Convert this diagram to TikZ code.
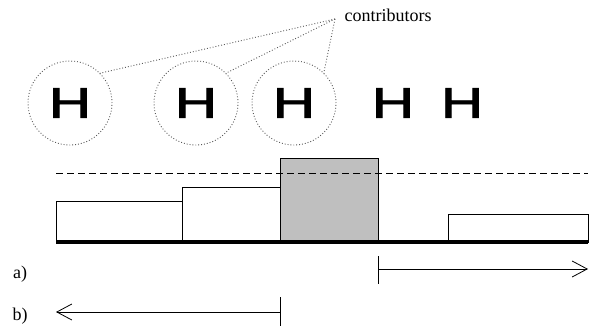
\documentclass[tikz,border=0pt]{standalone}
\usepackage{fontspec}
\usepackage{graphicx}
\setmainfont{Liberation Serif}
\newfontfamily\atomfont[FakeBold=1.5]{Liberation Sans}
\usetikzlibrary{arrows.meta}

\newcommand{\atomH}{\scalebox{1.36}[1]{H}}

\begin{document}
\begin{tikzpicture}[x=1pt, y=-1pt,
        shell/.style={circle, draw=gray!70!black, dotted, line width=0.9pt, minimum size=84pt, inner sep=0pt, outer sep=0pt},
        atom/.style={font=\atomfont\fontsize{43}{43}\selectfont, inner sep=0pt},
        bar/.style={draw, line width=0.8pt},
        pointer/.style={draw=gray!70!black, dotted, line width=0.9pt},
        span/.style={line width=0.8pt, -{Straight Barb[length=15pt,width=16pt,line width=0.8pt]}},
        tag/.style={font=\fontsize{18}{18}\selectfont, inner sep=0pt}]
    \useasboundingbox (0,0) rectangle (592,326);

    % atoms, the first three circled
    \node[shell] (s1) at (70,103) {};
    \node[shell] (s2) at (196,103) {};
    \node[shell] (s3) at (294,103) {};
    \node[atom] (h1) at (70,103) {\atomH};
    \node[atom] (h2) at (196,103) {\atomH};
    \node[atom] (h3) at (294,103) {\atomH};
    \node[atom] (h4) at (393,103) {\atomH};
    \node[atom] (h5) at (462,103) {\atomH};

    \node[tag] (contrib) at (388,15) {contributors};
    \coordinate (tip) at (335,19);
    \draw[pointer] (tip) -- (s1.45);
    \draw[pointer] (tip) -- (s2.45);
    \draw[pointer] (tip) -- (s3.45);

    % bins
    \draw[bar] (56,242) rectangle (182,201);
    \draw[bar] (182,242) rectangle (280,187);
    \draw[bar, fill=gray!50] (280,242) rectangle (378,158);
    \draw[bar] (448,242) rectangle (588,214);
    \draw[dash pattern=on 7pt off 4pt, line width=0.7pt] (56,173) -- (588,173);
    \draw[line width=4pt] (56,242) -- (588,242);

    % ranges
    \node[tag] (a) at (20,274) {a)};
    \node[tag] (b) at (20,316) {b)};
    \coordinate (a0) at (378,269);
    \coordinate (a1) at (588,269);
    \coordinate (b0) at (280,312);
    \coordinate (b1) at (56,312);
    \draw[line width=0.8pt] (378,256) -- (378,284);
    \draw[span] (a0) -- (a1);
    \draw[line width=0.8pt] (280,297) -- (280,326);
    \draw[span] (b0) -- (b1);
\end{tikzpicture}
\end{document}
